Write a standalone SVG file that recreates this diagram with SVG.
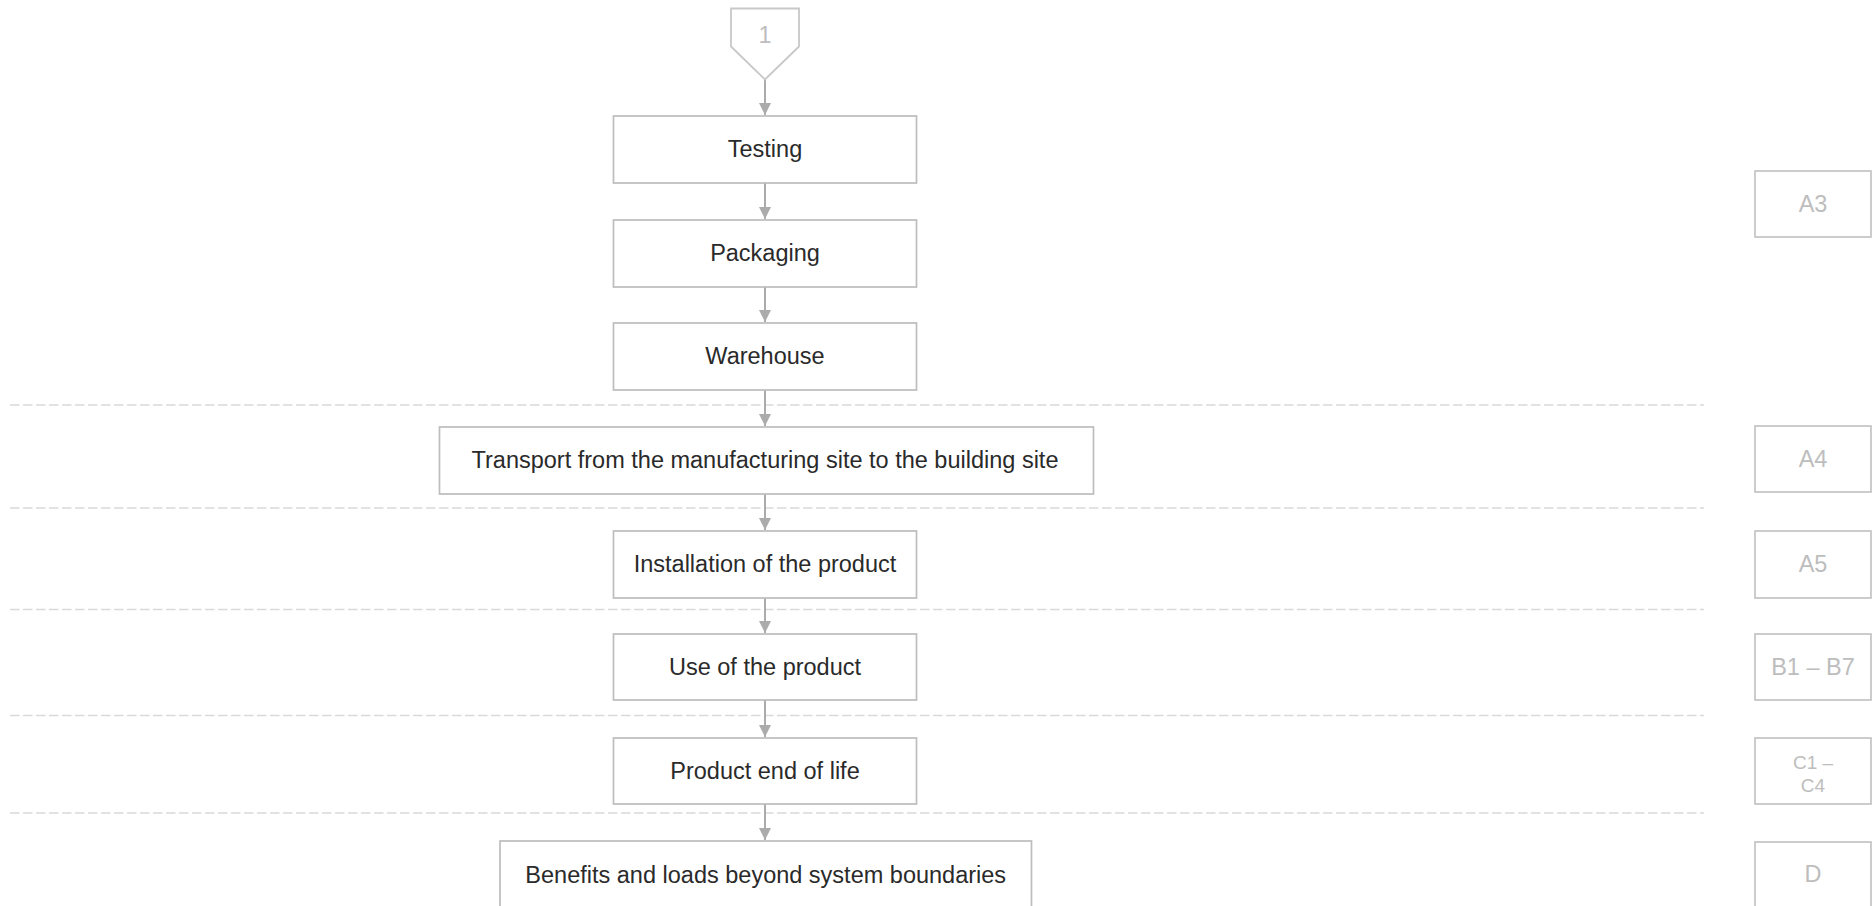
<svg xmlns="http://www.w3.org/2000/svg" width="1872" height="906" viewBox="0 0 1872 906">
<defs>
<style>
.box{fill:#fff;stroke:#bdbdbd;stroke-width:1.7}
.lab{fill:#fff;stroke:#c4c4c4;stroke-width:1.7}
.t{font-family:"Liberation Sans",Arial,sans-serif;font-size:23.5px;fill:#2a2a2a;text-anchor:middle}
.g{font-family:"Liberation Sans",Arial,sans-serif;font-size:23.5px;fill:#bdbdbd;text-anchor:middle}
.g2{font-family:"Liberation Sans",Arial,sans-serif;font-size:19px;fill:#bdbdbd;text-anchor:middle}
.dash{stroke:#d9d9d9;stroke-width:1.6;stroke-dasharray:9.5 3.5;fill:none}
.con{stroke:#ababab;stroke-width:2;fill:none}
</style>
<marker id="ah" viewBox="0 0 12 12" refX="12" refY="6" markerWidth="12" markerHeight="12" markerUnits="userSpaceOnUse" orient="auto">
<path d="M0,0 L12,6 L0,12 Z" fill="#ababab"/>
</marker>
</defs>
<rect width="1872" height="906" fill="#fff"/>
<g id="boundaries">
<line class="dash" x1="10" y1="405" x2="1704" y2="405"/>
<line class="dash" x1="10" y1="508" x2="1704" y2="508"/>
<line class="dash" x1="10" y1="609.5" x2="1704" y2="609.5"/>
<line class="dash" x1="10" y1="715.5" x2="1704" y2="715.5"/>
<line class="dash" x1="10" y1="813" x2="1704" y2="813"/>
</g>
<g id="connectors">
<line class="con" x1="765" y1="79" x2="765" y2="115" marker-end="url(#ah)"/>
<line class="con" x1="765" y1="183" x2="765" y2="219" marker-end="url(#ah)"/>
<line class="con" x1="765" y1="287" x2="765" y2="322" marker-end="url(#ah)"/>
<line class="con" x1="765" y1="390" x2="765" y2="426" marker-end="url(#ah)"/>
<line class="con" x1="765" y1="494" x2="765" y2="530" marker-end="url(#ah)"/>
<line class="con" x1="765" y1="598" x2="765" y2="633" marker-end="url(#ah)"/>
<line class="con" x1="765" y1="700" x2="765" y2="737" marker-end="url(#ah)"/>
<line class="con" x1="765" y1="804" x2="765" y2="840" marker-end="url(#ah)"/>
</g>
<g id="start">
<path d="M731,8.5 L799,8.5 L799,46.5 L765,79.5 L731,46.5 Z" fill="#fff" stroke="#c8c8c8" stroke-width="1.8"/>
<text class="g" x="765" y="43" font-size="20">1</text>
</g>
<g id="testing"><rect class="box" x="613.5" y="116" width="303" height="67"/><text class="t" x="765" y="157">Testing</text></g>
<g id="packaging"><rect class="box" x="613.5" y="220" width="303" height="67"/><text class="t" x="765" y="261">Packaging</text></g>
<g id="warehouse"><rect class="box" x="613.5" y="323" width="303" height="67"/><text class="t" x="765" y="364">Warehouse</text></g>
<g id="transport"><rect class="box" x="439.5" y="427" width="654" height="67"/><text class="t" x="765" y="468">Transport from the manufacturing site to the building site</text></g>
<g id="installation"><rect class="box" x="613.5" y="531" width="303" height="67"/><text class="t" x="765" y="572">Installation of the product</text></g>
<g id="use"><rect class="box" x="613.5" y="634" width="303" height="66"/><text class="t" x="765" y="675">Use of the product</text></g>
<g id="endoflife"><rect class="box" x="613.5" y="738" width="303" height="66"/><text class="t" x="765" y="779">Product end of life</text></g>
<g id="benefits"><rect class="box" x="500" y="841" width="531.5" height="90"/><text class="t" x="765.75" y="883">Benefits and loads beyond system boundaries</text></g>
<g id="label-a3"><rect class="lab" x="1755" y="171" width="116" height="66"/><text class="g" x="1813" y="212">A3</text></g>
<g id="label-a4"><rect class="lab" x="1755" y="426" width="116" height="66"/><text class="g" x="1813" y="467">A4</text></g>
<g id="label-a5"><rect class="lab" x="1755" y="531" width="116" height="67"/><text class="g" x="1813" y="572">A5</text></g>
<g id="label-b"><rect class="lab" x="1755" y="634" width="116" height="66"/><text class="g" x="1813" y="675">B1 – B7</text></g>
<g id="label-c"><rect class="lab" x="1755" y="738" width="116" height="66"/><text class="g2" x="1813" y="769">C1 –</text><text class="g2" x="1813" y="792">C4</text></g>
<g id="label-d"><rect class="lab" x="1755" y="842" width="116" height="90"/><text class="g" x="1813" y="882">D</text></g>
</svg>
